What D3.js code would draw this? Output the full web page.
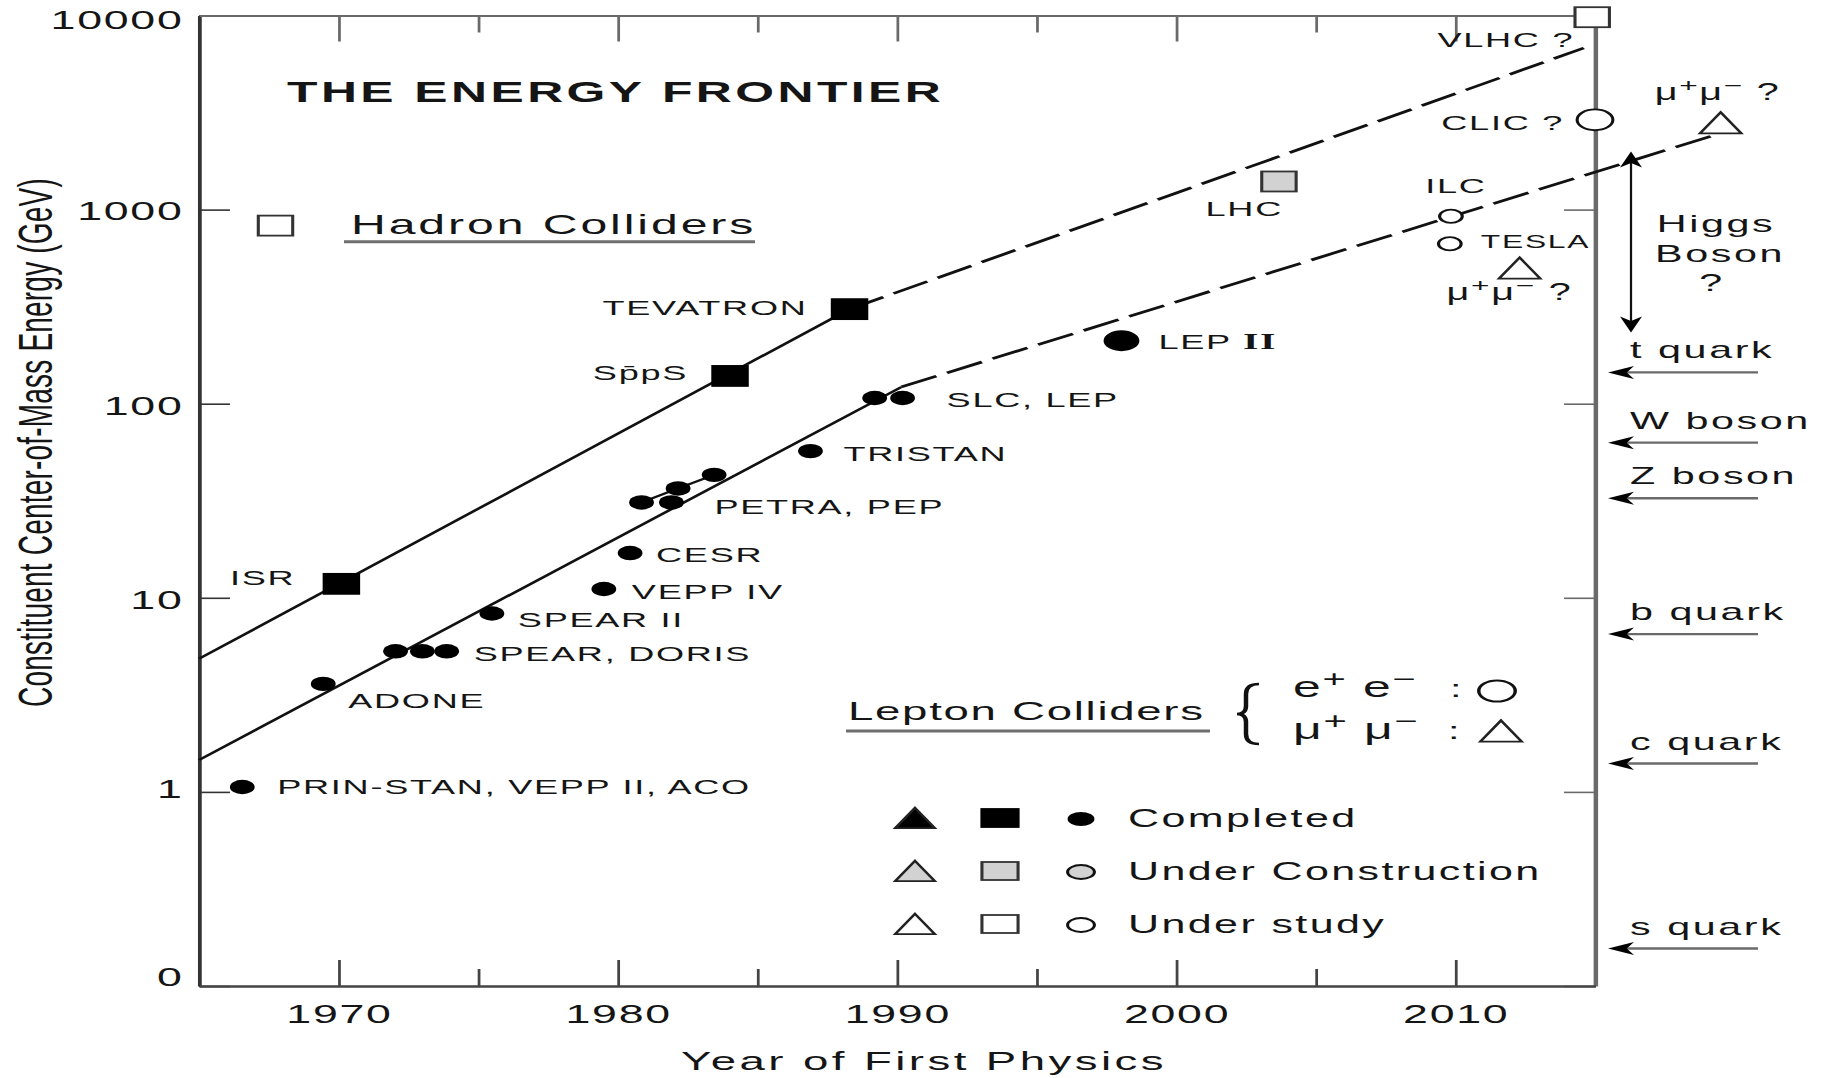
<!DOCTYPE html>
<html>
<head>
<meta charset="utf-8">
<script src="https://cdn.jsdelivr.net/npm/d3@7"></script>
<style>
  body { margin: 0; background: #fff; }
  svg { display: block; font-family: "Liberation Sans", Arial, sans-serif; }
  text { fill: #151515; letter-spacing: 1px; }
</style>
</head>
<body>
<svg id="chart" width="1822" height="1078"></svg>
<script>
// Collider data (year of first physics, constituent CM energy in GeV)
const colliderNames = ["PRIN-STAN", "ADONE", "SPEAR", "DORIS", "SPEAR b", "SPEAR II", "VEPP IV", "CESR",
    "PETRA", "PEP", "PETRA b", "PETRA c", "TRISTAN", "SLC", "LEP", "LEP II",
    "ISR", "SppS", "TEVATRON", "LHC", "VLHC", "CLIC", "ILC", "TESLA", "MuMu low", "MuMu high"];
const colliderYears = [1966.55, 1969.45, 1972.04, 1973.0, 1973.87, 1975.49, 1979.5, 1980.44,
    1980.85, 1981.92, 1982.16, 1983.45, 1986.9, 1989.2, 1990.2, 1998.04,
    1970.1, 1984.02, 1988.3, 2003.68, 2014.9, 2015.0, 2009.84, 2009.8, 2012.3, 2019.5];
const colliderEnergies = [1.06, 3.6, 5.3, 5.3, 5.3, 8.3, 11.1, 17,
    31, 31, 36.6, 43, 57, 107, 107, 211,
    11.8, 139, 307, 1396, 9800, 2900, 924, 667, 500, 2800];
const colliderShapes = ["circle", "circle", "circle", "circle", "circle", "circle", "circle", "circle",
    "circle", "circle", "circle", "circle", "circle", "circle", "circle", "circle",
    "square", "square", "square", "square", "square", "circle", "circle", "circle", "triangle", "triangle"];
const colliderStatus = ["completed", "completed", "completed", "completed", "completed", "completed", "completed", "completed",
    "completed", "completed", "completed", "completed", "completed", "completed", "completed", "completed",
    "completed", "completed", "completed", "construction", "study", "study", "study", "study", "study", "study"];

// trend lines: [year, GeV]
const hadronSolid = [[1965, 4.85], [1988.3, 307]];
const hadronDashed = [[1988.3, 307], [2014.6, 6800]];
const leptonSolid = [[1965, 1.46], [1990.16, 122]];
const leptonDashed = [[1990.16, 122], [2019.2, 2400]];
const petraChain = ["PETRA", "PETRA b", "PETRA c"];

// particle thresholds on the right side
const particleNames = ["t quark", "W boson", "Z boson", "b quark", "c quark", "s quark"];
const particleEnergies = [145, 63, 32.6, 6.5, 1.4, 0.156];
const higgsRange = [233, 1990];

// axes
const yTickValues = [0.1, 1, 10, 100, 1000, 10000];
const yTickLabels = ["0", "1", "10", "100", "1000", "10000"];
const xMajorTicks = [1970, 1980, 1990, 2000, 2010];
const xMinorTicks = [1975, 1985, 1995, 2005];

const legendRows = ["Completed", "Under Construction", "Under study"];
const statusFill = { completed: "#000", construction: "#d2d2d2", study: "#fff" };

// the whole drawing is stretched horizontally, like the original figure
const SX = 1.72;
const svg = d3.select("#chart");
svg.append("rect").attr("width", 1822).attr("height", 1078).attr("fill", "#fff");
const g = svg.append("g").attr("transform", `scale(${SX},1)`);

const x = d3.scaleLinear().domain([1965, 2015]).range([199 / SX, 1595 / SX]);
const y = d3.scaleLog().domain([0.1, 10000]).range([986, 15.5]);
const rx = px => px / SX; // real pixels -> stretched units

function styleAxis(sel, color, width) {
    sel.select(".domain").attr("stroke", color).attr("stroke-width", width);
    sel.selectAll(".tick line").attr("stroke", color).attr("stroke-width", 1.6);
    sel.selectAll(".tick text").attr("font-size", 26).attr("fill", "#151515")
        .attr("font-family", "Liberation Sans, Arial, sans-serif");
}

// left axis
const yLabelShift = [-9, -3, 2, 2, 2, 5]; // the printed labels sit a little off their ticks
g.append("g")
    .attr("transform", `translate(${x(1965)},0)`)
    .call(d3.axisLeft(y).tickValues(yTickValues).tickFormat((d, i) => yTickLabels[i])
        .tickSizeInner(-18).tickSizeOuter(0).tickPadding(9))
    .call(s => styleAxis(s, "#333", 2.2))
    .call(s => s.selectAll(".tick text").attr("y", (d, i) => yLabelShift[i]));

// right axis
g.append("g")
    .attr("transform", `translate(${x(2015)},0)`)
    .call(d3.axisRight(y).tickValues(yTickValues).tickFormat("")
        .tickSizeInner(-18).tickSizeOuter(0))
    .call(s => styleAxis(s, "#6a6a6a", 2.6));

// top axis
g.append("g")
    .attr("transform", `translate(0,${y(10000)})`)
    .call(d3.axisTop(x).tickValues(xMajorTicks).tickFormat("").tickSizeInner(-26).tickSizeOuter(0))
    .call(s => styleAxis(s, "#6a6a6a", 2));
g.append("g")
    .attr("transform", `translate(0,${y(10000)})`)
    .call(d3.axisTop(x).tickValues(xMinorTicks).tickFormat("").tickSizeInner(-17).tickSizeOuter(0))
    .call(s => styleAxis(s, "#6a6a6a", 2));

// bottom axis
g.append("g")
    .attr("transform", `translate(0,${y(0.1)})`)
    .call(d3.axisBottom(x).tickValues(xMajorTicks).tickFormat(d3.format("d"))
        .tickSizeInner(-26).tickSizeOuter(0).tickPadding(19))
    .call(s => styleAxis(s, "#444", 2.2));
g.append("g")
    .attr("transform", `translate(0,${y(0.1)})`)
    .call(d3.axisBottom(x).tickValues(xMinorTicks).tickFormat("").tickSizeInner(-17).tickSizeOuter(0))
    .call(s => styleAxis(s, "#444", 2.2));

// axis titles
g.append("text")
    .attr("transform", `translate(${rx(52)},${(174 + 711) / 2}) rotate(-90)`)
    .attr("text-anchor", "middle")
    .attr("font-size", 28)
    .style("letter-spacing", "0.2px")
    .text("Constituent Center-of-Mass Energy (GeV)");

g.append("text")
    .attr("x", rx(924)).attr("y", 1070)
    .attr("text-anchor", "middle")
    .attr("font-size", 26.5)
    .style("letter-spacing", "2px")
    .text("Year of First Physics");

// title
g.append("text")
    .attr("x", rx(287)).attr("y", 102)
    .attr("font-size", 29).attr("font-weight", "bold")
    .style("letter-spacing", "2px")
    .text("THE ENERGY FRONTIER");

// trend lines
const line = d3.line().x(d => x(d[0])).y(d => y(d[1]));
[hadronSolid, leptonSolid].forEach(d => {
    g.append("path").attr("d", line(d)).attr("fill", "none")
        .attr("stroke", "#111").attr("stroke-width", 2.2);
});
[hadronDashed, leptonDashed].forEach(d => {
    g.append("path").attr("d", line(d)).attr("fill", "none")
        .attr("stroke", "#111").attr("stroke-width", 2.6)
        .attr("stroke-dasharray", "23,7");
});

// PETRA/PEP connecting segments
const idx = name => colliderNames.indexOf(name);
g.append("path")
    .attr("d", line(petraChain.map(n => [colliderYears[idx(n)], colliderEnergies[idx(n)]])))
    .attr("fill", "none").attr("stroke", "#111").attr("stroke-width", 2);

// markers
function drawMarker(sel, shape, cx, cy, size, fill) {
    if (shape === "circle") {
        return sel.append("circle").attr("cx", cx).attr("cy", cy).attr("r", size)
            .attr("fill", fill).attr("stroke", "#111").attr("stroke-width", fill === "#000" ? 0 : 1.8);
    }
    if (shape === "square") {
        return sel.append("rect").attr("x", cx - size / 2).attr("y", cy - size / 2)
            .attr("width", size).attr("height", size)
            .attr("fill", fill).attr("stroke", fill === "#000" ? "#000" : "#333").attr("stroke-width", 1.8);
    }
    const w = size, h = size * 0.88;
    return sel.append("path")
        .attr("d", `M${cx},${cy - h / 2}L${cx + w / 2},${cy + h / 2}L${cx - w / 2},${cy + h / 2}Z`)
        .attr("fill", fill).attr("stroke", "#222").attr("stroke-width", 1.8).attr("stroke-linejoin", "miter");
}

const bigMarkers = ["LEP II", "CLIC"];
const smallOpen = ["ILC", "TESLA"];
colliderNames.forEach((name, i) => {
    const shape = colliderShapes[i];
    let size = shape === "square" ? 20 : shape === "triangle" ? 24 : 7.2;
    if (bigMarkers.includes(name)) size = 10.4;
    if (smallOpen.includes(name)) size = 6.6;
    drawMarker(g, shape, x(colliderYears[i]), y(colliderEnergies[i]), size, statusFill[colliderStatus[i]]);
});

// rich text helper: parts [{t, sup, family, weight, size}]
function richText(sel, px, py, parts, opts = {}) {
    const t = sel.append("text").attr("x", px).attr("y", py)
        .attr("font-size", opts.size || 21)
        .attr("text-anchor", opts.anchor || "start");
    let shifted = 0;
    parts.forEach(p => {
        const ts = t.append("tspan").text(p.t);
        const base = opts.size || 21;
        let dy = 0;
        if (p.sup && !shifted) { dy = -base * 0.36; shifted = 1; }
        else if (!p.sup && shifted) { dy = base * 0.36; shifted = 0; }
        if (dy) ts.attr("dy", dy);
        if (p.sup) ts.attr("font-size", base * 0.8);
        if (p.family) ts.attr("font-family", p.family);
        if (p.weight) ts.attr("font-weight", p.weight);
        if (p.size) ts.attr("font-size", p.size);
    });
    return t;
}
const mumu = q => [{ t: "\u03bc" }, { t: "+", sup: true }, { t: "\u03bc" }, { t: "\u2212", sup: true }, { t: q }];

// point labels: offsets in real pixels from the marker
const labels = [
    { at: "PRIN-STAN", dx: 35, dy: 7, parts: [{ t: "PRIN-STAN, VEPP II, ACO" }] },
    { at: "ADONE", dx: 25, dy: 24, parts: [{ t: "ADONE" }] },
    { at: "SPEAR b", dx: 27, dy: 10, parts: [{ t: "SPEAR, DORIS" }] },
    { at: "SPEAR II", dx: 26, dy: 13, parts: [{ t: "SPEAR II" }] },
    { at: "VEPP IV", dx: 28, dy: 10, parts: [{ t: "VEPP IV" }] },
    { at: "CESR", dx: 26, dy: 9, parts: [{ t: "CESR" }] },
    { at: "ISR", dx: -46, dy: 1, anchor: "end", parts: [{ t: "ISR" }] },
    { at: "PEP", dx: 43, dy: 12, parts: [{ t: "PETRA, PEP" }] },
    { at: "TRISTAN", dx: 33, dy: 10, parts: [{ t: "TRISTAN" }] },
    { at: "LEP", dx: 44, dy: 9, parts: [{ t: "SLC, LEP" }] },
    { at: "LEP II", dx: 37, dy: 8, parts: [{ t: "LEP " }, { t: "II", family: "Liberation Serif, serif", weight: "bold", size: 23 }] },
    { at: "SppS", dx: -42, dy: 4, anchor: "end", parts: [{ t: "Sp\u0304pS" }] },
    { at: "TEVATRON", dx: -42, dy: 6, anchor: "end", parts: [{ t: "TEVATRON" }] },
    { at: "LHC", dx: 4, dy: 35, anchor: "end", parts: [{ t: "LHC" }] },
    { at: "VLHC", dx: -18, dy: 30, anchor: "end", parts: [{ t: "VLHC ?" }] },
    { at: "CLIC", dx: -31, dy: 10, anchor: "end", parts: [{ t: "CLIC ?" }] },
    { at: "ILC", dx: 5, dy: -23, anchor: "middle", parts: [{ t: "ILC" }] },
    { at: "TESLA", dx: 31, dy: 4, size: 18.5, parts: [{ t: "TESLA" }] },
    { at: "MuMu low", dx: -73, dy: 32, size: 23, parts: mumu(" ?") },
    { at: "MuMu high", dx: -66, dy: -23, size: 23, parts: mumu(" ?") }
];
labels.forEach(l => {
    const i = idx(l.at);
    richText(g, x(colliderYears[i]) + rx(l.dx), y(colliderEnergies[i]) + l.dy, l.parts,
        { anchor: l.anchor, size: l.size });
});

// Hadron Colliders heading
drawMarker(g, "square", x(1967.74), y(827), 20, "#fff");
g.append("text").attr("x", rx(351)).attr("y", 234).attr("font-size", 28)
    .style("letter-spacing", "1.7px").text("Hadron Colliders");
g.append("line").attr("x1", rx(344)).attr("x2", rx(755)).attr("y1", 241.7).attr("y2", 241.7)
    .attr("stroke", "#6f6f6f").attr("stroke-width", 3);

// Lepton Colliders heading
g.append("text").attr("x", rx(848)).attr("y", 720).attr("font-size", 26.5)
    .style("letter-spacing", "1px").text("Lepton Colliders");
g.append("line").attr("x1", rx(846)).attr("x2", rx(1210)).attr("y1", 731).attr("y2", 731)
    .attr("stroke", "#6f6f6f").attr("stroke-width", 3);
{
    const xr = rx(1259), xc = rx(1246), xt = rx(1237);
    g.append("path")
        .attr("d", `M${xr},684 Q${xc},684 ${xc},694 L${xc},706 Q${xc},714 ${xt},714 Q${xc},714 ${xc},722 L${xc},734 Q${xc},744 ${xr},744`)
        .attr("fill", "none").attr("stroke", "#111").attr("stroke-width", 2.6);
}
richText(g, rx(1293), 697, [{ t: "e" }, { t: "+", sup: true }, { t: " e" }, { t: "\u2212", sup: true }], { size: 29 });
richText(g, rx(1293), 739, [{ t: "\u03bc" }, { t: "+", sup: true }, { t: " \u03bc" }, { t: "\u2212", sup: true }], { size: 29 });
g.append("text").attr("x", rx(1450)).attr("y", 697).attr("font-size", 24).text(":");
g.append("text").attr("x", rx(1448)).attr("y", 739).attr("font-size", 24).text(":");
drawMarker(g, "circle", rx(1497), 691, 10.6, "#fff").attr("stroke-width", 2);
drawMarker(g, "triangle", rx(1501), 731, 24, "#fff");

// status legend
const legendFills = ["#000", "#d2d2d2", "#fff"];
legendRows.forEach((label, r) => {
    const cy = 818 + r * 53;
    drawMarker(g, "triangle", rx(915), cy, 23, legendFills[r]);
    g.append("rect").attr("x", rx(1000) - 10.5).attr("y", cy - 9).attr("width", 21).attr("height", 18)
        .attr("fill", legendFills[r]).attr("stroke", r === 0 ? "#000" : "#333").attr("stroke-width", 1.8);
    g.append("ellipse").attr("cx", rx(1081)).attr("cy", cy + 1).attr("rx", 7.8).attr("ry", 7)
        .attr("fill", legendFills[r]).attr("stroke", "#111").attr("stroke-width", r === 0 ? 0 : 1.8);
    g.append("text").attr("x", rx(1128)).attr("y", cy + 9).attr("font-size", 25)
        .style("letter-spacing", "1.4px").text(label);
});

// particle thresholds with arrows
function arrowHead(sel, tipX, tipY, dir) {
    // dir: "left", "up", "down"
    const L = 16;
    let d;
    if (dir === "left") {
        const l = rx(26);
        d = `M${tipX},${tipY}L${tipX + l},${tipY - 6.5}L${tipX + l * 0.72},${tipY}L${tipX + l},${tipY + 6.5}Z`;
    } else {
        const s = dir === "up" ? 1 : -1;
        d = `M${tipX},${tipY}L${tipX + rx(11)},${tipY + s * L}L${tipX},${tipY + s * L * 0.72}L${tipX - rx(11)},${tipY + s * L}Z`;
    }
    sel.append("path").attr("d", d).attr("fill", "#000");
}

particleNames.forEach((name, i) => {
    const py = y(particleEnergies[i]);
    g.append("line").attr("x1", rx(1625)).attr("x2", rx(1758)).attr("y1", py).attr("y2", py)
        .attr("stroke", "#6a6a6a").attr("stroke-width", 2.4);
    arrowHead(g, rx(1608), py, "left");
    g.append("text").attr("x", rx(1630)).attr("y", py - 14).attr("font-size", 24)
        .style("letter-spacing", "1.5px").text(name);
});

// Higgs boson range
{
    const hx = rx(1631);
    g.append("line").attr("x1", hx).attr("x2", hx)
        .attr("y1", y(higgsRange[1]) + 6).attr("y2", y(higgsRange[0]) - 6)
        .attr("stroke", "#111").attr("stroke-width", 1.3);
    arrowHead(g, hx, y(higgsRange[1]), "up");
    arrowHead(g, hx, y(higgsRange[0]), "down");
    ["Higgs", "Boson", "?"].forEach((t, i) => {
        g.append("text").attr("x", rx([1716, 1720, 1712][i])).attr("y", [232, 262, 291][i])
            .attr("text-anchor", "middle").attr("font-size", 24)
            .style("letter-spacing", "1.5px").text(t);
    });
}
</script>
</body>
</html>
